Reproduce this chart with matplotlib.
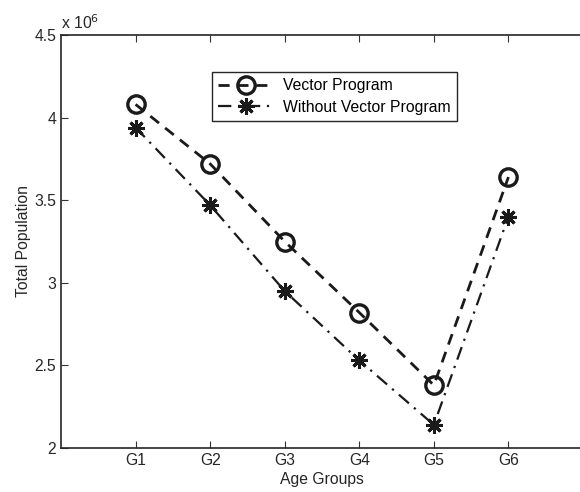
import matplotlib
matplotlib.use("Agg")
import matplotlib.pyplot as plt

plt.rcParams['font.family'] = ['Liberation Sans', 'DejaVu Sans']

groups = ['G1', 'G2', 'G3', 'G4', 'G5', 'G6']
vector_program = [4.08e6, 3.72e6, 3.25e6, 2.82e6, 2.38e6, 3.64e6]
without_vector = [3.94e6, 3.47e6, 2.95e6, 2.53e6, 2.14e6, 3.40e6]

FS = 11.3
fig = plt.figure(figsize=(5.8, 4.92), dpi=100)
ax = fig.add_axes([61/580, 1-448/492, 522/580, 413/492])

x = list(range(1, len(groups) + 1))
ax.plot(x, vector_program, linestyle=(0, (4, 2.8)), color='#1a1a1a', lw=2,
        marker='o', markersize=12.5, markerfacecolor='none', markeredgewidth=2.4,
        markeredgecolor='#1a1a1a', label='Vector Program')
ax.plot(x, without_vector, linestyle=(0, (6, 3, 1, 3)), color='#1a1a1a', lw=1.6,
        marker=(8, 2, 0), markersize=12, markeredgewidth=2.2,
        markeredgecolor='#1a1a1a', label='Without Vector Program')

ax.set_xlim(0, 7)
ax.set_ylim(2e6, 4.5e6)
ax.set_xticks(x)
ax.set_xticklabels(groups)
ax.set_yticks([2e6, 2.5e6, 3e6, 3.5e6, 4e6, 4.5e6])
ax.set_yticklabels(['2', '2.5', '3', '3.5', '4', '4.5'])
ax.tick_params(direction='in', length=5, width=0.8, labelsize=FS, top=True, right=False,
               colors='#333333', labelcolor='#262626')
for s in ax.spines.values():
    s.set_linewidth(1.2)
    s.set_color('#262626')
ax.spines['right'].set_visible(False)
ax.text(0.0, 1.008, r'x 10$^{6}$', transform=ax.transAxes, fontsize=FS, ha='left', va='bottom',
        color='#262626')
ax.set_xlabel('Age Groups', fontsize=FS, labelpad=3, color='#262626')
ax.set_ylabel('Total Population', fontsize=FS, labelpad=2, color='#262626')

leg = ax.legend(loc='upper left', bbox_to_anchor=(151/522, 1-37/413), fontsize=FS,
                frameon=True, fancybox=False, framealpha=1, edgecolor='#262626',
                borderpad=0.4, labelspacing=0.4, handlelength=3.5, handletextpad=0.6,
                borderaxespad=0)
leg.get_frame().set_linewidth(1.0)

fig.savefig('out.png', dpi=100)
